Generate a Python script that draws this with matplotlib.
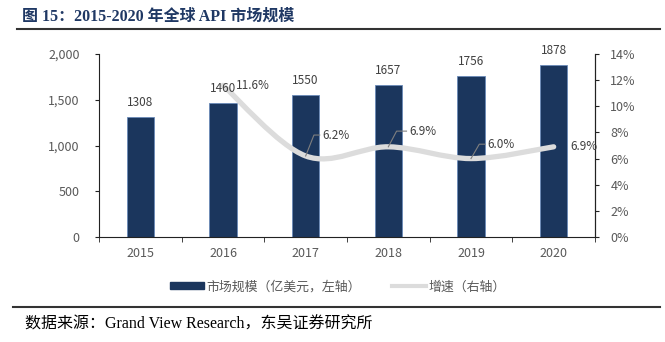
import matplotlib.pyplot as plt
from matplotlib.path import Path
from matplotlib.patches import PathPatch
from matplotlib.lines import Line2D
from matplotlib.patches import Patch

plt.rcParams['font.family'] = ['Noto Sans CJK SC', 'DejaVu Sans']

# data
years = ['2015', '2016', '2017', '2018', '2019', '2020']
market = [1308, 1460, 1550, 1657, 1756, 1878]
growth_years = ['2016', '2017', '2018', '2019', '2020']
growth = [11.6, 6.2, 6.9, 6.0, 6.9]
left_ticks = [0, 500, 1000, 1500, 2000]
left_ticklabels = ['0', '500', '1,000', '1,500', '2,000']
right_ticks = [0, 2, 4, 6, 8, 10, 12, 14]

NAVY = '#1b365d'
GRAY_LINE = '#dcdcdc'
TXT = '#595959'
AXC = '#222222'

fig = plt.figure(figsize=(6.65, 3.42), dpi=100)
ax = fig.add_axes([99 / 665, 1 - 237 / 342, 496 / 665, 183 / 342])
ax2 = ax.twinx()

xs = list(range(len(years)))
ax.bar(xs, market, width=0.33, color=NAVY, edgecolor='#6a8ab8', linewidth=0.6, zorder=2)

ax.set_xlim(-0.5, len(years) - 0.5)
ax.set_ylim(0, 2000)
ax.set_yticks(left_ticks)
ax.set_yticklabels(left_ticklabels)
ax.set_xticks(xs)
ax.set_xticklabels(years)
ax.set_xticks([x - 0.5 for x in xs] + [xs[-1] + 0.5], minor=True)
ax.tick_params(axis='x', which='major', length=0, pad=7, labelsize=9, labelcolor=TXT)
ax.tick_params(axis='x', which='minor', length=3.5, direction='out', color=AXC)
ax.tick_params(axis='y', length=3, direction='out', pad=11, labelsize=9, labelcolor=TXT, color=AXC)
ax.spines['top'].set_visible(False)
for s in ['left', 'bottom', 'right']:
    ax.spines[s].set_color(AXC)

# smoothed growth line (bezier through the data points)
gx = [years.index(y) for y in growth_years]
pts = list(zip(gx, growth))
verts = [pts[0]]
codes = [Path.MOVETO]
t = 1 / 6
for i in range(len(pts) - 1):
    p0 = pts[i - 1] if i > 0 else pts[i]
    p1 = pts[i]
    p2 = pts[i + 1]
    p3 = pts[i + 2] if i + 2 < len(pts) else pts[i + 1]
    c1 = (p1[0] + (p2[0] - p0[0]) * t, p1[1] + (p2[1] - p0[1]) * t)
    c2 = (p2[0] - (p3[0] - p1[0]) * t, p2[1] - (p3[1] - p1[1]) * t)
    verts += [c1, c2, p2]
    codes += [Path.CURVE4] * 3
ax2.add_patch(PathPatch(Path(verts, codes), facecolor='none', edgecolor=GRAY_LINE,
                        linewidth=3.8, capstyle='round', zorder=3))
ax2.set_ylim(0, 14)
ax2.set_yticks(right_ticks)
ax2.set_yticklabels([f'{v}%' for v in right_ticks])
ax2.tick_params(axis='y', length=3, direction='out', pad=8, labelsize=9, labelcolor=TXT, color=AXC)
for s in ['top', 'left', 'bottom']:
    ax2.spines[s].set_visible(False)
ax2.spines['right'].set_color(AXC)

# bar value labels, drawn on top of the growth line
for x, v in zip(xs, market):
    ax2.text(x, v + 90, str(v), ha='center', va='bottom', fontsize=8.5, color='#404040',
             transform=ax.transData, zorder=6)

# growth labels with leader lines
offsets = [(0.16, 0.0), (0.2, 1.6), (0.25, 1.2), (0.2, 1.1), (0.2, 0.0)]
for (x, v), (dx, dy) in zip(pts, offsets):
    lab = f'{v:.1f}%'
    if dy > 0.5:
        ax2.plot([x, x + 0.1, x + dx - 0.03], [v, v + dy, v + dy], color='#7f7f7f', lw=0.8, zorder=4)
    ax2.text(x + dx, v + dy, lab, ha='left', va='center', fontsize=8.5, color='#404040', zorder=5)

# legend
handles = [Patch(facecolor=NAVY, edgecolor=NAVY), Line2D([], [], color=GRAY_LINE, lw=3)]
fig.legend(handles, ['市场规模（亿美元，左轴）', '增速（右轴）'], loc='center',
           bbox_to_anchor=(338 / 665, 1 - 287 / 342), ncol=2, frameon=False, fontsize=9.3,
           labelcolor=TXT, handlelength=2.6, handleheight=0.45, columnspacing=2.4, handletextpad=0.2)

# title, rules, source
fig.text(22 / 665, 1 - 17 / 342, '图 15：2015-2020 年全球 API 市场规模', fontsize=11.5,
         fontweight='bold', color='#1f3864', va='center', ha='left',
         family=['Liberation Serif', 'Noto Sans CJK SC'])
fig.add_artist(Line2D([17 / 665, 660 / 665], [1 - 29 / 342] * 2, color='#333333', lw=1.5))
fig.add_artist(Line2D([13 / 665, 660 / 665], [1 - 307 / 342] * 2, color='#333333', lw=1.5))
fig.text(25 / 665, 1 - 325 / 342, '数据来源：Grand View Research，东吴证券研究所', fontsize=11.5,
         color='black', va='center', ha='left', family=['Liberation Serif', 'Noto Sans CJK SC'])

fig.savefig('out.png', dpi=100)
